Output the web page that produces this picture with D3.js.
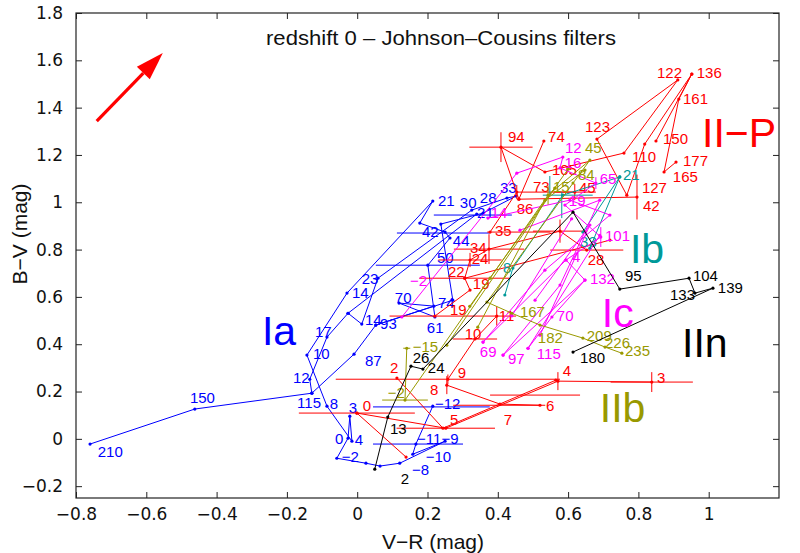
<!DOCTYPE html>
<html>
<head>
<meta charset="utf-8">
<title>Colour-colour diagram</title>
<script src="https://cdn.jsdelivr.net/npm/d3@7/dist/d3.min.js"></script>
<style>
  html, body { margin: 0; padding: 0; background: #ffffff; }
  svg { display: block; }
</style>
</head>
<body>
<svg id="chart" width="800" height="553"></svg>
<script>
// ---------- axis ticks ----------
const xTickValues = [-0.8, -0.6, -0.4, -0.2, 0, 0.2, 0.4, 0.6, 0.8, 1];
const yTickValues = [-0.2, 0, 0.2, 0.4, 0.6, 0.8, 1, 1.2, 1.4, 1.6, 1.8];

// ---------- reddening vector (V-R, B-V) ----------
const reddeningFrom = [-0.741, 1.343];
const reddeningTo = [-0.553, 1.631];

// Each type: tracks of [V-R, B-V], error bars [V-R, B-V, dVR, dBV],
// phase labels [V-R, B-V, text], and the type tag anchor [V-R, B-V].

// ---------- Type Ia ----------
const iaTracks = [
  [[0.215,0.138],[0.167,-0.022],[0.158,-0.065],[0.250,-0.010],[0.121,-0.103],[0.065,-0.115],
   [0.025,-0.103],[-0.058,-0.082],[-0.026,0.003],[-0.021,0.096],[-0.015,-0.010],[-0.086,0.138],
   [-0.143,0.354],[-0.029,0.616],[0.215,1.005],[0.178,0.912],[0.250,0.874],[0.264,0.849],
   [0.201,0.734],[0.221,0.515],[0.119,0.574],[0.218,0.561],[0.053,0.481],[-0.009,0.358],
   [-0.129,0.193],[-0.462,0.126],[-0.760,-0.022]],
  [[-0.129,0.193],[-0.135,0.252],[-0.086,0.430],[-0.026,0.531],[0.013,0.485],[0.059,0.679],
   [0.326,0.967],[0.426,1.018],[0.452,1.026],[0.358,0.954],[0.238,0.908],[0.272,0.586],[0.053,0.481]],
  [[-0.026,0.531],[0.340,0.950]]
];
const iaErrors = [
  [0.329,0.946,0.111,0],[0.245,0.870,0.132,0],[0.201,0.734,0.148,0],
  [0.211,0.135,0.166,0],[0.173,-0.022,0.128,0]
];
const iaLabels = [
  [-0.738,-0.052,"210"],[-0.476,0.176,"150"],[-0.171,0.155,"115"],[-0.183,0.257,"12"],
  [-0.126,0.362,"10"],[-0.120,0.455,"17"],[-0.015,0.620,"14"],[0.022,0.502,"14"],
  [0.065,0.489,"93"],[0.022,0.329,"87"],[0.107,0.595,"70"],[0.230,0.574,"74"],
  [0.198,0.472,"61"],[0.013,0.679,"23"],[0.227,0.768,"50"],[0.272,0.840,"44"],
  [0.184,0.874,"42"],[0.230,1.009,"21"],[0.292,0.997,"30"],[0.349,1.018,"28"],
  [0.406,1.064,"33"],[0.341,0.958,"21"],[-0.024,0.130,"3"],[-0.078,0.147,"8"],
  [-0.063,-0.001,"0"],[-0.007,-0.005,"4"],[-0.044,-0.073,"\u22122"],[0.221,0.147,"\u221212"],
  [0.170,0.003,"\u221211"],[0.240,0.003,"\u22129"],[0.195,-0.077,"\u221210"],[0.156,-0.132,"\u22128"]
];
const iaTag = [-0.271, 0.396];

// ---------- Type II-P ----------
const iipTracks = [
  [[-0.001,0.109],[0.139,-0.077]],
  [[-0.001,0.109],[0.252,0.045],[0.571,0.244],[0.838,0.240]],
  [[0.113,0.257],[0.244,0.045],[0.565,0.248]],
  [[0.255,0.227],[0.406,0.147],[0.520,0.142]],
  [[0.258,0.252],[0.335,0.422],[0.397,0.519]],
  [[0.221,0.519],[0.321,0.629],[0.306,0.679],[0.321,0.756],[0.375,0.802],[0.577,0.878],[0.653,0.798]],
  [[0.531,1.259],[0.460,1.013],[0.409,1.233],[0.534,1.128],[0.759,1.208],[0.912,1.517],
   [0.682,1.267],[0.767,1.030],[0.818,1.246],[0.952,1.542],[0.915,1.436],[0.873,1.128],[0.907,1.170]],
  [[0.952,1.542],[0.850,1.259]],
  [[0.460,1.013],[0.796,1.022]],
  [[0.378,0.874],[0.454,1.043],[0.619,1.043]],
  [[0.306,0.679],[0.719,0.840]]
];
const iipErrors = [
  [0.409,1.233,0.090,0.063],[0.796,1.022,0,0.095],[0.375,0.802,0.10,0.063],
  [0.321,0.756,0.09,0.03],[0.306,0.679,0.13,0],[0.272,0.519,0.18,0],
  [0.397,0.519,0,0.04],[0.335,0.422,0.063,0],[0.258,0.252,0.319,0.02],
  [0.255,0.227,0,0.038],[0.571,0.244,0,0.038],[0.838,0.240,0.117,0.042],
  [0.404,0.142,0.131,0],[0.252,0.045,0.14,0],[-0.001,0.109,0.165,0],
  [0.506,0.185,0.128,0],[0.577,0.878,0.077,0.049],[0.653,0.798,0.104,0],
  [0.460,0.874,0.09,0],[0.454,1.043,0,0.03],[0.619,1.043,0.06,0.034]
];
const iipLabels = [
  [0.016,0.142,"0"],[0.093,0.303,"2"],[0.264,0.083,"5"],[0.417,0.083,"7"],[0.537,0.142,"6"],
  [0.207,0.210,"8"],[0.286,0.282,"9"],[0.585,0.290,"4"],[0.853,0.257,"3"],[0.306,0.447,"10"],
  [0.403,0.519,"11"],[0.264,0.548,"19"],[0.329,0.658,"19"],[0.258,0.705,"22"],[0.326,0.764,"24"],
  [0.321,0.810,"34"],[0.392,0.882,"35"],[0.656,0.756,"28"],[0.454,0.975,"86"],[0.500,1.068,"73"],
  [0.631,1.064,"45"],[0.554,1.136,"105"],[0.543,1.276,"74"],[0.429,1.276,"94"],[0.648,1.318,"123"],
  [0.853,1.550,"122"],[0.966,1.550,"136"],[0.927,1.440,"161"],[0.870,1.271,"150"],[0.782,1.195,"110"],
  [0.927,1.178,"177"],[0.898,1.107,"165"],[0.810,1.060,"127"],[0.813,0.988,"42"]
];
const iipTag = [0.981, 1.233];

// ---------- Type Ib ----------
const ibTracks = [
  [[0.420,0.608],[0.443,0.722],[0.585,1.030],[0.747,1.107],[0.642,0.874]],
  [[0.747,1.107],[0.662,0.806]]
];
const ibErrors = [
  [0.548,1.071,0,0.040],[0.582,0.988,0,0.055],[0.599,1.030,0.071,0]
];
const ibLabels = [[0.415,0.722,"8"],[0.756,1.115,"21"],[0.634,0.832,"33"]];
const ibTag = [0.776, 0.743];

// ---------- Type Ic ----------
const icTracks = [
  [[0.127,0.515],[0.454,1.123],[0.585,1.191],[0.577,1.145],[0.679,1.081],[0.591,0.988],
   [0.693,0.853],[0.594,0.756],[0.648,0.671],[0.554,0.515],[0.486,0.383]],
  [[0.372,0.933],[0.605,1.009],[0.719,0.946],[0.534,0.713],[0.358,0.409]],
  [[0.463,0.882],[0.690,1.009],[0.577,0.650],[0.415,0.354]],
  [[0.506,0.586],[0.662,0.904],[0.520,0.438]],
  [[0.358,0.409],[0.594,0.756]],
  [[0.415,0.354],[0.648,0.671]],
  [[0.486,0.383],[0.690,0.860]],
  [[0.440,0.520],[0.610,0.930]]
];
const icErrors = [[0.679,1.081,0,0.025],[0.693,0.853,0,0.042]];
const icLabels = [
  [0.150,0.667,"\u22122"],[0.591,1.229,"12"],[0.590,1.168,"16"],[0.690,1.102,"65"],
  [0.602,1.009,"19"],[0.705,0.861,"101"],[0.611,0.772,"4"],[0.662,0.679,"132"],
  [0.568,0.523,"70"],[0.511,0.362,"115"],[0.429,0.341,"97"],[0.349,0.367,"69"],[0.380,0.958,"14"]
];
const icTag = [0.696, 0.472];

// ---------- Type IIb ----------
const iibTracks = [
  [[0.141,0.383],[0.136,0.164],[0.378,0.679],[0.543,1.030],[0.662,1.178],[0.614,1.081],
   [0.369,0.578],[0.440,0.531],[0.520,0.481],[0.642,0.426],[0.705,0.388],[0.753,0.362]],
  [[0.343,0.472],[0.534,1.009],[0.648,1.136]],
  [[0.255,0.396],[0.562,1.060]],
  [[0.320,0.560],[0.600,1.140]]
];
const iibErrors = [[0.136,0.164,0.065,0],[0.141,0.383,0.01,0],[0.543,1.030,0,0.04]];
const iibLabels = [
  [0.158,0.392,"\u221215"],[0.087,0.197,"\u22122"],[0.557,1.068,"15"],[0.648,1.229,"45"],
  [0.628,1.115,"84"],[0.463,0.536,"167"],[0.514,0.430,"182"],[0.653,0.438,"209"],
  [0.705,0.405,"226"],[0.762,0.371,"235"]
];
const iibTag = [0.690, 0.071];

// ---------- Type IIn ----------
const iinTracks = [
  [[0.050,-0.128],[0.087,0.092],[0.153,0.307],[0.187,0.295],[0.614,0.958],[0.747,0.633],
   [0.944,0.679],[0.961,0.616],[1.012,0.637],[0.614,0.367]]
];
const iinErrors = [];
const iinLabels = [
  [0.124,-0.166,"2"],[0.093,0.045,"13"],[0.158,0.345,"26"],[0.201,0.303,"24"],
  [0.762,0.688,"95"],[0.955,0.692,"104"],[0.890,0.608,"133"],[1.026,0.641,"139"],[0.634,0.345,"180"]
];
const iinTag = [0.924, 0.345];

// ---------- assemble ----------
const supernovaTypes = [
  { name: "Ia",   color: "#0000ff", tracks: iaTracks,  errors: iaErrors,  labels: iaLabels,  tag: iaTag },
  { name: "II\u2212P", color: "#ff0000", tracks: iipTracks, errors: iipErrors, labels: iipLabels, tag: iipTag },
  { name: "Ib",   color: "#009999", tracks: ibTracks,  errors: ibErrors,  labels: ibLabels,  tag: ibTag },
  { name: "Ic",   color: "#ff00ff", tracks: icTracks,  errors: icErrors,  labels: icLabels,  tag: icTag },
  { name: "IIb",  color: "#999900", tracks: iibTracks, errors: iibErrors, labels: iibLabels, tag: iibTag },
  { name: "IIn",  color: "#000000", tracks: iinTracks, errors: iinErrors, labels: iinLabels, tag: iinTag }
];

// ---------- layout ----------
const plot = { left: 76, right: 779, top: 13, bottom: 498 };
const svg = d3.select("#chart");

const x = d3.scaleLinear().domain([-0.8, 1.2]).range([plot.left, plot.right]);
const y = d3.scaleLinear().domain([-0.25, 1.8]).range([plot.bottom, plot.top]);

const fmt = d3.format("~g");
const tickFont = "'DejaVu Sans', sans-serif";
const textFont = "'Liberation Sans', Arial, Helvetica, sans-serif";

// axes with inward ticks on all four sides
const axisG = svg.append("g").attr("class", "axes");
axisG.append("g")
  .attr("transform", `translate(0,${plot.bottom})`)
  .call(d3.axisBottom(x).tickValues(xTickValues).tickFormat(fmt).tickSizeInner(-6).tickSizeOuter(0).tickPadding(10));
axisG.append("g")
  .attr("transform", `translate(0,${plot.top})`)
  .call(d3.axisTop(x).tickValues(xTickValues).tickFormat("").tickSizeInner(-6).tickSizeOuter(0));
axisG.append("g")
  .attr("transform", `translate(${plot.left},0)`)
  .call(d3.axisLeft(y).tickValues(yTickValues).tickFormat(fmt).tickSizeInner(-6).tickSizeOuter(0).tickPadding(13));
axisG.append("g")
  .attr("transform", `translate(${plot.right},0)`)
  .call(d3.axisRight(y).tickValues(yTickValues).tickFormat("").tickSizeInner(-6).tickSizeOuter(0));
axisG.selectAll(".domain").remove();
axisG.selectAll(".tick line").attr("stroke", "#222").attr("stroke-width", 1);
axisG.selectAll(".tick text")
  .attr("fill", "#111")
  .style("font-family", tickFont)
  .style("font-size", "17px");

svg.append("rect")
  .attr("x", plot.left).attr("y", plot.top)
  .attr("width", plot.right - plot.left).attr("height", plot.bottom - plot.top)
  .attr("fill", "none").attr("stroke", "#222").attr("stroke-width", 1.2);

// axis titles
svg.append("text")
  .attr("x", 433).attr("y", 549)
  .attr("text-anchor", "middle")
  .style("font-family", textFont).style("font-size", "21px").attr("fill", "#111")
  .text("V\u2212R (mag)");
svg.append("text")
  .attr("transform", "translate(27,234) rotate(-90)")
  .attr("text-anchor", "middle")
  .style("font-family", textFont).style("font-size", "21px").attr("fill", "#111")
  .text("B\u2212V (mag)");

// title inside the axes
svg.append("text")
  .attr("x", 441).attr("y", 45)
  .attr("text-anchor", "middle")
  .attr("textLength", 350).attr("lengthAdjust", "spacingAndGlyphs")
  .style("font-family", textFont).style("font-size", "20px").attr("fill", "#111")
  .text("redshift 0 \u2013 Johnson\u2013Cousins filters");

// ---------- data layers ----------
const line = d3.line().x(d => x(d[0])).y(d => y(d[1]));
const dataG = svg.append("g").attr("class", "data");

supernovaTypes.forEach(t => {
  const g = dataG.append("g").attr("class", "type");

  // error bars
  t.errors.forEach(e => {
    const [vr, bv, dx, dy] = e;
    if (dx > 0) {
      g.append("line")
        .attr("x1", x(vr - dx)).attr("x2", x(vr + dx))
        .attr("y1", y(bv)).attr("y2", y(bv))
        .attr("stroke", t.color).attr("stroke-width", 1);
    }
    if (dy > 0) {
      g.append("line")
        .attr("x1", x(vr)).attr("x2", x(vr))
        .attr("y1", y(bv - dy)).attr("y2", y(bv + dy))
        .attr("stroke", t.color).attr("stroke-width", 1);
    }
  });

  // evolutionary tracks
  g.selectAll("path.track")
    .data(t.tracks)
    .enter().append("path")
    .attr("class", "track")
    .attr("d", line)
    .attr("fill", "none")
    .attr("stroke", t.color)
    .attr("stroke-width", 1);

  // epoch markers
  g.selectAll("circle.pt")
    .data(t.tracks.flat())
    .enter().append("circle")
    .attr("class", "pt")
    .attr("cx", d => x(d[0])).attr("cy", d => y(d[1]))
    .attr("r", 1.6)
    .attr("fill", t.color);

  // phase labels
  g.selectAll("text.phase")
    .data(t.labels)
    .enter().append("text")
    .attr("class", "phase")
    .attr("x", d => x(d[0])).attr("y", d => y(d[1]))
    .attr("dy", "0.36em")
    .style("font-family", textFont).style("font-size", "15px")
    .attr("fill", t.color)
    .text(d => d[2]);
});

// type tags
const tagG = svg.append("g").attr("class", "tags");
supernovaTypes.forEach(t => {
  tagG.append("text")
    .attr("x", x(t.tag[0])).attr("y", y(t.tag[1]))
    .style("font-family", textFont).style("font-size", "41px")
    .attr("fill", t.color)
    .text(t.name);
});

// reddening arrow
{
  const x0 = x(reddeningFrom[0]), y0 = y(reddeningFrom[1]);
  const x1 = x(reddeningTo[0]),  y1 = y(reddeningTo[1]);
  const ang = Math.atan2(y1 - y0, x1 - x0);
  const headLen = 28, headHalf = 9;
  const bx = x1 - headLen * Math.cos(ang), by = y1 - headLen * Math.sin(ang);
  svg.append("line")
    .attr("x1", x0).attr("y1", y0).attr("x2", bx).attr("y2", by)
    .attr("stroke", "#ff0000").attr("stroke-width", 3.2);
  const px = -Math.sin(ang), py = Math.cos(ang);
  svg.append("polygon")
    .attr("points", [
      [x1, y1],
      [bx + headHalf * px, by + headHalf * py],
      [bx - headHalf * px, by - headHalf * py]
    ].map(p => p.join(",")).join(" "))
    .attr("fill", "#ff0000");
}
</script>
</body>
</html>
